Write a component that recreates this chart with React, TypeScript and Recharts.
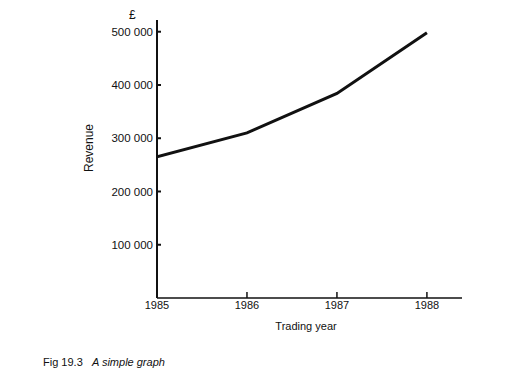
import React from "react";
import { Label, Line, LineChart, XAxis, YAxis } from "recharts";

const years = [1985, 1986, 1987, 1988];
const revenue = [265000, 310000, 384000, 498000];
const revenueTicks = [100000, 200000, 300000, 400000, 500000];

const data = years.map((year, i) => ({ year, revenue: revenue[i] }));

const ink = "#111";
const font = "'Liberation Sans', Arial, sans-serif";

const formatThousands = (v: number) =>
  String(v).replace(/\B(?=(\d{3})+(?!\d))/g, " ");

function SimpleGraph() {
  return (
    <div style={{ position: "relative", width: 500, height: 366, fontFamily: font }}>
      <LineChart
        width={500}
        height={340}
        data={data}
        margin={{ top: 12, right: 46, left: 0, bottom: 20 }}
      >
        <XAxis
          dataKey="year"
          type="number"
          domain={[1985, 1988.39]}
          ticks={years}
          allowDataOverflow
          height={30}
          stroke={ink}
          strokeWidth={1.5}
          tickSize={-6}
          tickMargin={9}
          tick={{ fill: ink, fontSize: 11, fontFamily: font }}
        >
          <Label
            content={() => (
              <text x={298} y={322} textAnchor="middle" fill={ink} fontSize={11} fontFamily={font}>
                Trading year
              </text>
            )}
          />
        </XAxis>
        <YAxis
          type="number"
          domain={[0, 522000]}
          ticks={revenueTicks}
          allowDataOverflow
          width={149}
          stroke={ink}
          strokeWidth={2}
          tickSize={-4}
          tickMargin={8}
          tickFormatter={formatThousands}
          tick={{ fill: ink, fontSize: 11.5, fontFamily: font }}
        >
          <Label
            content={() => (
              <text
                x={85}
                y={140}
                textAnchor="middle"
                fill={ink}
                fontSize={12}
                fontFamily={font}
                transform="rotate(-90 85 140)"
              >
                Revenue
              </text>
            )}
          />
        </YAxis>
        <Line
          dataKey="revenue"
          type="linear"
          stroke={ink}
          strokeWidth={3}
          dot={false}
          isAnimationActive={false}
        />
      </LineChart>
      <span
        style={{ position: "absolute", left: 121, top: 0, fontSize: 12, color: ink }}
      >
        £
      </span>
      <div
        style={{ position: "absolute", left: 35, top: 348, fontSize: 11, color: ink, whiteSpace: "pre" }}
      >
        Fig 19.3{"   "}
        <i>A simple graph</i>
      </div>
    </div>
  );
}

export default function App() {
  return <SimpleGraph />;
}
